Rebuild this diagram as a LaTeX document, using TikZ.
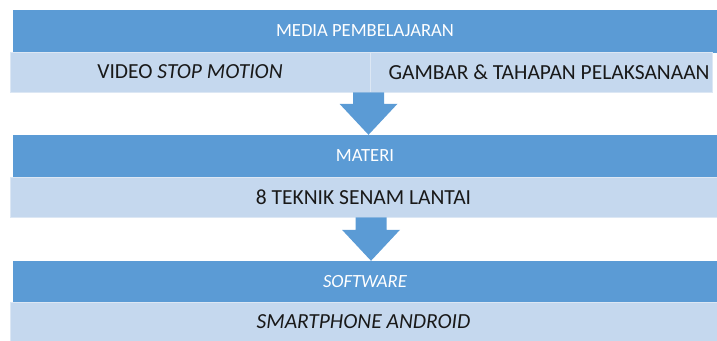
\documentclass[tikz,border=0pt]{standalone}
\usepackage{fontspec}
\setmainfont{Carlito}
\usetikzlibrary{calc}
\definecolor{headBlue}{RGB}{91,155,213}
\definecolor{cellBlue}{RGB}{197,216,238}
\definecolor{cellLine}{RGB}{220,231,244}
\newcommand{\downArrow}[2]{%%
  %% Shaft from #1, head ending in #2.
  \fill[arrowStyle] ($(#1)+(-15.5,0)$) -- ($(#1)+(15.5,0)$) -- ($(#2)+(15.5,31)$)
    -- ($(#2)+(29,31)$) -- (#2) -- ($(#2)+(-29,31)$) -- ($(#2)+(-15.5,31)$) -- cycle;
}

\begin{document}
\begin{tikzpicture}[%%
  x=1pt,y=1pt,
  headStyle/.style={fill=headBlue,draw=headBlue,text=white,inner sep=0pt,
    minimum height=42pt,font=\fontsize{18.6}{19}\selectfont},%%
  cellStyle/.style={fill=cellBlue,draw=cellLine,line width=0.8pt,text=black!90,inner sep=0pt,
    minimum height=40pt,font=\fontsize{21.5}{22}\selectfont},%%
  arrowStyle/.style={fill=headBlue}%%
]
\useasboundingbox (0,0) rectangle (717,-340);
%%
%% First row: the media.
\node[headStyle,minimum width=704pt] (media) at (365,-31) {MEDIA PEMBELAJARAN};
\node[cellStyle,minimum width=360pt] (video) at (190,-72) {VIDEO \textit{STOP MOTION}};
\node[cellStyle,minimum width=342pt] (gambar) at (541,-72) {\hspace*{16pt}GAMBAR \& TAHAPAN PELAKSANAAN};
%%
%% Second row: the material.
\node[headStyle,minimum width=704pt] (materi) at (365,-156) {MATERI};
\node[cellStyle,minimum width=707pt] (teknik) at (363.5,-197) {8 TEKNIK SENAM LANTAI};
%%
%% Third row: the software.
\node[headStyle,minimum width=704pt,minimum height=41pt] (software) at (365,-281.5) {\textit{SOFTWARE}};
\node[cellStyle,minimum width=707pt,minimum height=39pt] (android) at (363.5,-321.5) {\textit{SMARTPHONE ANDROID}};
%%
%% The arrows between the rows.
\coordinate (arrowOneTop) at ($(video.south -| 368.5,0)$);
\coordinate (arrowOneTip) at ($(materi.north -| 368.5,0)$);
\coordinate (arrowTwoTop) at ($(teknik.south -| 371,0)$);
\coordinate (arrowTwoTip) at ($(software.north -| 371,0)$);
\downArrow{arrowOneTop}{arrowOneTip}
\downArrow{arrowTwoTop}{arrowTwoTip}
\end{tikzpicture}
\end{document}
